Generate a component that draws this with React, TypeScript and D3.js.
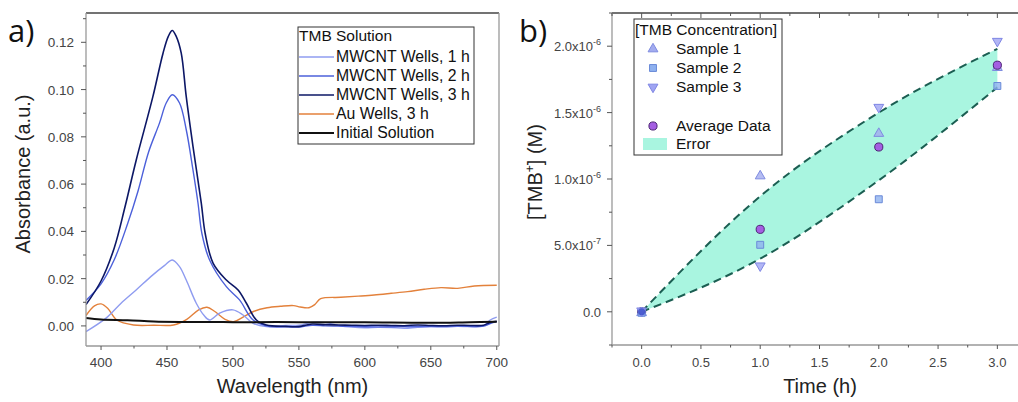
import * as d3 from 'd3';
import React from 'react';

// ---- panel a data (wavelength nm, absorbance a.u.) ----
const wlAbs1h: [number, number][] = [
  [388.6, -0.0024], [403.8, 0.0033], [415, 0.0095], [426.6, 0.0152], [439.3, 0.0216], [448, 0.0255],
  [454, 0.0279], [459.5, 0.0251], [464.6, 0.0194], [472.2, 0.0096], [478, 0.0045], [482.3, 0.0025],
  [489.9, 0.0054], [500, 0.0068], [507.7, 0.0046], [515.3, 0.0011], [525.4, -0.0003], [540, 0.0002],
  [550, 0.0003], [560, 0.0015], [570, 0.0014], [580, 0.0002], [590, -0.0005], [600, -0.0008],
  [610, -0.0006], [620, -0.0007], [630, -0.001], [640, -0.0006], [650, -0.0004], [660, -0.0005],
  [670, -0.0002], [680, -0.0003], [690, 0.0], [695, 0.0025], [700, 0.0037],
];
const wlAbs2h: [number, number][] = [
  [388.6, 0.0108], [400, 0.0178], [410, 0.028], [420, 0.043], [428, 0.057], [436, 0.0735],
  [444.3, 0.0858], [449.4, 0.0943], [454, 0.0978], [459.5, 0.0943], [464.6, 0.083], [469.7, 0.066],
  [473.5, 0.052], [476.5, 0.039], [482.3, 0.0279], [495, 0.0166], [505, 0.011], [515.3, 0.0025],
  [528, -0.0003], [540, -0.0004], [550, -0.0005], [560, 0.0003], [570, 0.0], [580, -0.0001],
  [590, -0.0002], [610, -0.0004], [630, -0.0003], [650, -0.0002], [670, -0.0001], [690, -0.0001],
  [695, 0.001], [700, 0.0018],
];
const wlAbs3h: [number, number][] = [
  [388.6, 0.009], [400, 0.019], [410, 0.033], [418, 0.05], [426.6, 0.07], [439.3, 0.097],
  [447, 0.1154], [451, 0.1225], [454, 0.125], [457, 0.1225], [460.8, 0.1154], [464.6, 0.097],
  [469.7, 0.076], [476, 0.052], [479, 0.039], [485, 0.0265], [495, 0.0194], [503.9, 0.0152],
  [510.2, 0.0096], [517.8, 0.0025], [525.4, 0.0004], [540, -0.0002], [550, -0.0003], [560, 0.0008],
  [570, 0.0005], [580, 0.0004], [590, 0.0003], [600, 0.0002], [610, 0.0003], [620, 0.0002],
  [630, 0.0001], [640, 0.0004], [650, 0.0002], [660, 0.0001], [670, 0.0003], [680, 0.0002],
  [690, 0.0003], [695, 0.0015], [700, 0.002],
];
const wlAbsAu: [number, number][] = [
  [388.6, 0.0044], [395, 0.0085], [400, 0.0093], [405, 0.0075], [412, 0.0025], [424.6, 0.0004],
  [440, 0.0003], [455, 0.0004], [465, 0.0028], [474, 0.0068], [480.3, 0.0079], [486, 0.0062],
  [494, 0.0028], [500.5, 0.0018], [508, 0.0038], [516, 0.0062], [525.9, 0.0077], [536, 0.0083],
  [546, 0.0086], [551, 0.008], [557.6, 0.0077], [562, 0.009], [566.5, 0.0115], [581.7, 0.0121],
  [595, 0.0126], [607, 0.0131], [620, 0.0138], [632.4, 0.0145], [645, 0.0155], [657.7, 0.0162],
  [670.3, 0.0159], [683, 0.0169], [700, 0.0172],
];
const wlAbsInit: [number, number][] = [
  [388.6, 0.0033], [400, 0.0027], [420, 0.0024], [440, 0.0019], [460, 0.0017], [500, 0.0016],
  [550, 0.0016], [600, 0.0015], [650, 0.0013], [680, 0.0016], [700, 0.0018],
];

const specSeries = [
  { name: 'MWCNT Wells, 1 h', color: '#8f9cf0', width: 1.4, data: wlAbs1h },
  { name: 'MWCNT Wells, 2 h', color: '#4c60da', width: 1.4, data: wlAbs2h },
  { name: 'MWCNT Wells, 3 h', color: '#0c1766', width: 1.6, data: wlAbs3h },
  { name: 'Au Wells, 3 h', color: '#e3813b', width: 1.4, data: wlAbsAu },
  { name: 'Initial Solution', color: '#111111', width: 2, data: wlAbsInit },
];
const specDrawOrder = [3, 0, 1, 2, 4];

const xTicksA = [400, 450, 500, 550, 600, 650, 700];
const yTicksA = [0, 0.02, 0.04, 0.06, 0.08, 0.1, 0.12];

// ---- panel b data (time h, [TMB+] M) ----
const times = [0, 1, 2, 3];
const sample1 = [0, 1.03e-6, 1.35e-6, 1.846e-6];
const sample2 = [0, 0.512e-6, 0.855e-6, 1.708e-6];
const sample3 = [0, 0.339e-6, 1.533e-6, 2.03e-6];
const average = [0, 0.621e-6, 1.241e-6, 1.857e-6];
const errUpper = [0, 0.87e-6, 1.5e-6, 1.98e-6];
const errLower = [0, 0.4e-6, 0.99e-6, 1.69e-6];

const xTicksB = [0, 0.5, 1, 1.5, 2, 2.5, 3];
const yTicksB = [0, 5e-7, 1e-6, 1.5e-6, 2e-6];
const yTickLabelsB = [
  { base: '0.0', exp: '' },
  { base: '5.0x10', exp: '-7' },
  { base: '1.0x10', exp: '-6' },
  { base: '1.5x10', exp: '-6' },
  { base: '2.0x10', exp: '-6' },
];

const FONT = '"Liberation Sans", Arial, sans-serif';
const AXIS = '#555';
const LABEL = '#444';

const sym = (type: d3.SymbolType, size: number) => d3.symbol().type(type).size(size)()!;

const sampleStyles = [
  { name: 'Sample 1', path: sym(d3.symbolTriangle, 42), rot: 0, fill: '#a2abef', stroke: '#7e8be0' },
  { name: 'Sample 2', path: sym(d3.symbolSquare, 48), rot: 0, fill: '#8fb1ef', stroke: '#6a8ad8' },
  { name: 'Sample 3', path: sym(d3.symbolTriangle, 42), rot: 180, fill: '#9fa4f2', stroke: '#7f86e4' },
];
const sampleData = [sample1, sample2, sample3];

function PanelA() {
  const L = 86, R = 499, T = 13, B = 346;
  const x = d3.scaleLinear().domain([388.6, 701.7]).range([L, R]);
  const y = d3.scaleLinear().domain([-0.0085, 0.1324]).range([B, T]);
  const line = d3.line<[number, number]>()
    .x((d) => x(d[0]))
    .y((d) => y(d[1]))
    .curve(d3.curveCatmullRom.alpha(0.5));
  const xMinor = d3.range(400, 701, 25).filter((v) => v % 50 !== 0);
  const yMinor = d3.range(-0.0, 0.131, 0.01).filter((v) => Math.round(v * 100) % 2 !== 0);

  const legX = 298, legY = 27, legW = 176, legH = 117;
  return (
    <g fontFamily={FONT}>
      <defs>
        <clipPath id="clipA">
          <rect x={L} y={T} width={R - L} height={B - T} />
        </clipPath>
      </defs>
      <g clipPath="url(#clipA)">
        {specDrawOrder.map((i) => (
          <path key={i} d={line(specSeries[i].data)!} fill="none"
            stroke={specSeries[i].color} strokeWidth={specSeries[i].width} strokeLinejoin="round" />
        ))}
      </g>
      {/* frame */}
      <line x1={L} x2={R} y1={T} y2={T} stroke="#444" strokeWidth={1.5} />
      <line x1={R} x2={R} y1={T} y2={B} stroke="#999" strokeWidth={1.3} />
      <line x1={L} x2={L} y1={T} y2={B} stroke="#999" strokeWidth={1.3} />
      <line x1={L} x2={R} y1={B} y2={B} stroke="#999" strokeWidth={1.3} />
      {/* x ticks */}
      {xTicksA.map((v) => (
        <g key={v}>
          <line x1={x(v)} x2={x(v)} y1={B} y2={B + 4} stroke={AXIS} />
          <text x={x(v)} y={367} textAnchor="middle" fontSize={13.5} fill={LABEL}>{v}</text>
        </g>
      ))}
      {xMinor.map((v) => (
        <line key={v} x1={x(v)} x2={x(v)} y1={B} y2={B + 2.5} stroke={AXIS} />
      ))}
      {/* y ticks */}
      {yTicksA.map((v) => (
        <g key={v}>
          <line x1={L - 5} x2={L} y1={y(v)} y2={y(v)} stroke={AXIS} />
          <text x={74} y={y(v) + 5} textAnchor="end" fontSize={13.5} fill={LABEL}>{v.toFixed(2)}</text>
        </g>
      ))}
      {yMinor.map((v) => (
        <line key={v} x1={L - 3} x2={L} y1={y(v)} y2={y(v)} stroke={AXIS} />
      ))}
      <text x={(L + R) / 2} y={393} textAnchor="middle" fontSize={20} fill="#222">Wavelength (nm)</text>
      <text transform="translate(30,174) rotate(-90)" textAnchor="middle" fontSize={20} fill="#222">Absorbance (a.u.)</text>
      <text x={8} y={42} fontSize={31} fontFamily='"Open Sans", "Noto Sans", sans-serif' fill="#111">a)</text>
      {/* legend */}
      <rect x={legX} y={legY} width={legW} height={legH} fill="#fff" stroke="#333" strokeWidth={1} />
      <text x={legX + 1} y={legY + 14} fontSize={15.5} fill="#111">TMB Solution</text>
      {specSeries.map((s, i) => (
        <g key={s.name}>
          <line x1={legX + 1} x2={legX + 36} y1={legY + 30 + i * 19} y2={legY + 30 + i * 19}
            stroke={s.color} strokeWidth={s.width} />
          <text x={legX + 38} y={legY + 35 + i * 19} fontSize={15.8} fill="#111">{s.name}</text>
        </g>
      ))}
    </g>
  );
}

function PanelB() {
  const L = 612, R = 1027, T = 13, B = 345;
  const x = d3.scaleLinear().domain([-0.25, 3.25]).range([L, R]);
  const y = d3.scaleLinear().domain([-2.5e-7, 2.25e-6]).range([B, T]);
  const bandArea = d3.area<number>()
    .x((_, i) => x(times[i]))
    .y0((_, i) => y(errLower[i]))
    .y1((_, i) => y(errUpper[i]))
    .curve(d3.curveMonotoneX);
  const edge = (vals: number[]) => d3.line<number>()
    .x((_, i) => x(times[i]))
    .y((v) => y(v))
    .curve(d3.curveMonotoneX)(vals)!;
  const xMinor = d3.range(-0.25, 3.26, 0.25).filter((v) => Math.round(v * 4) % 2 !== 0);
  const yMinor = d3.range(-2.5e-7, 2.26e-6, 2.5e-7).filter((v) => Math.round(v * 4e6) % 2 !== 0);

  const legX = 634, legY = 19, legW = 148, legH = 136;
  const circle = sym(d3.symbolCircle, 52);
  const marker = (si: number, i: number) => (
    <path key={`${si}-${i}`} d={sampleStyles[si].path}
      transform={`translate(${x(times[i])},${y(sampleData[si][i]) + (sampleStyles[si].rot ? -1 : 1)}) rotate(${sampleStyles[si].rot})`}
      fill={sampleStyles[si].fill} fillOpacity={0.8} stroke={sampleStyles[si].stroke} strokeWidth={1} />
  );
  return (
    <g fontFamily={FONT}>
      <defs>
        <clipPath id="clipB">
          <rect x={L} y={T} width={R - L} height={B - T} />
        </clipPath>
      </defs>
      <g clipPath="url(#clipB)">
        <path d={bandArea(times)!} fill="#a9f5e0" />
        <path d={edge(errUpper)} fill="none" stroke="#1b5e52" strokeWidth={2} strokeDasharray="8 5" />
        <path d={edge(errLower)} fill="none" stroke="#1b5e52" strokeWidth={2} strokeDasharray="8 5" />
        {sampleData.map((vals, si) => vals.map((_, i) => (i > 0 ? marker(si, i) : null)))}
        {average.map((v, i) => (
          <path key={i} d={circle} transform={`translate(${x(times[i])},${y(v)})`}
            fill="#a45ee2" stroke="#4b2474" strokeWidth={1} />
        ))}
        {/* at t = 0 the samples sit on top of the average */}
        {sampleData.map((_, si) => marker(si, 0))}
        <circle cx={x(0)} cy={y(0)} r={3.5} fill="#3a4cc8" opacity={0.8} />
      </g>
      {/* frame */}
      <line x1={L} x2={R} y1={T} y2={T} stroke="#444" strokeWidth={1.5} />
      <line x1={L} x2={L} y1={T} y2={B} stroke="#999" strokeWidth={1.3} />
      <line x1={L} x2={R} y1={B} y2={B} stroke="#999" strokeWidth={1.3} />
      {xTicksB.map((v) => (
        <g key={v}>
          <line x1={x(v)} x2={x(v)} y1={B} y2={B + 4} stroke={AXIS} />
          <line x1={x(v)} x2={x(v)} y1={T} y2={T + 5} stroke={AXIS} />
          <text x={x(v)} y={367} textAnchor="middle" fontSize={13} fill={LABEL}>{v.toFixed(1)}</text>
        </g>
      ))}
      {xMinor.map((v) => (
        <g key={v}>
          <line x1={x(v)} x2={x(v)} y1={B} y2={B + 2.5} stroke={AXIS} />
          <line x1={x(v)} x2={x(v)} y1={T} y2={T + 3} stroke={AXIS} />
        </g>
      ))}
      {yTicksB.map((v, i) => (
        <g key={v}>
          <line x1={L - 5} x2={L} y1={y(v)} y2={y(v)} stroke={AXIS} />
          <text x={601} y={y(v) + 5} textAnchor="end" fontSize={13} fill={LABEL}>
            {yTickLabelsB[i].base}
            {yTickLabelsB[i].exp && <tspan dy={-6} fontSize={9}>{yTickLabelsB[i].exp}</tspan>}
          </text>
        </g>
      ))}
      {yMinor.map((v) => (
        <line key={v} x1={L - 3} x2={L} y1={y(v)} y2={y(v)} stroke={AXIS} />
      ))}
      <text x={820} y={393} textAnchor="middle" fontSize={20} fill="#222">Time (h)</text>
      <text transform="translate(542,172) rotate(-90)" textAnchor="middle" fontSize={20} fill="#222">
        [TMB<tspan dy={-8} fontSize={12}>+</tspan><tspan dy={8}>] (M)</tspan>
      </text>
      <text x={519} y={42} fontSize={31} fontFamily='"Open Sans", "Noto Sans", sans-serif' fill="#111">b)</text>
      {/* legend */}
      <rect x={legX} y={legY} width={legW} height={legH} fill="#fff" stroke="#333" strokeWidth={1} />
      <text x={legX + 1} y={legY + 16} fontSize={15.5} fill="#111">[TMB Concentration]</text>
      {sampleStyles.map((s, i) => (
        <g key={s.name}>
          <path d={s.path} transform={`translate(653,${legY + 30 + i * 19}) rotate(${s.rot})`}
            fill={s.fill} stroke={s.stroke} />
          <text x={676} y={legY + 35 + i * 19} fontSize={15.5} fill="#111">{s.name}</text>
        </g>
      ))}
      <path d={circle} transform={`translate(653,${legY + 107})`} fill="#a45ee2" stroke="#4b2474" />
      <text x={676} y={legY + 112} fontSize={15.5} fill="#111">Average Data</text>
      <rect x={legX + 9} y={legY + 119} width={24} height={12} fill="#a9f5e0" />
      <text x={676} y={legY + 130} fontSize={15.5} fill="#111">Error</text>
    </g>
  );
}

export default function App() {
  return (
    <svg width={1018} height={402} style={{ position: 'absolute', left: 0, top: 0, background: '#fff' }}>
      <rect width={1018} height={402} fill="#fff" />
      <PanelA />
      <PanelB />
    </svg>
  );
}
